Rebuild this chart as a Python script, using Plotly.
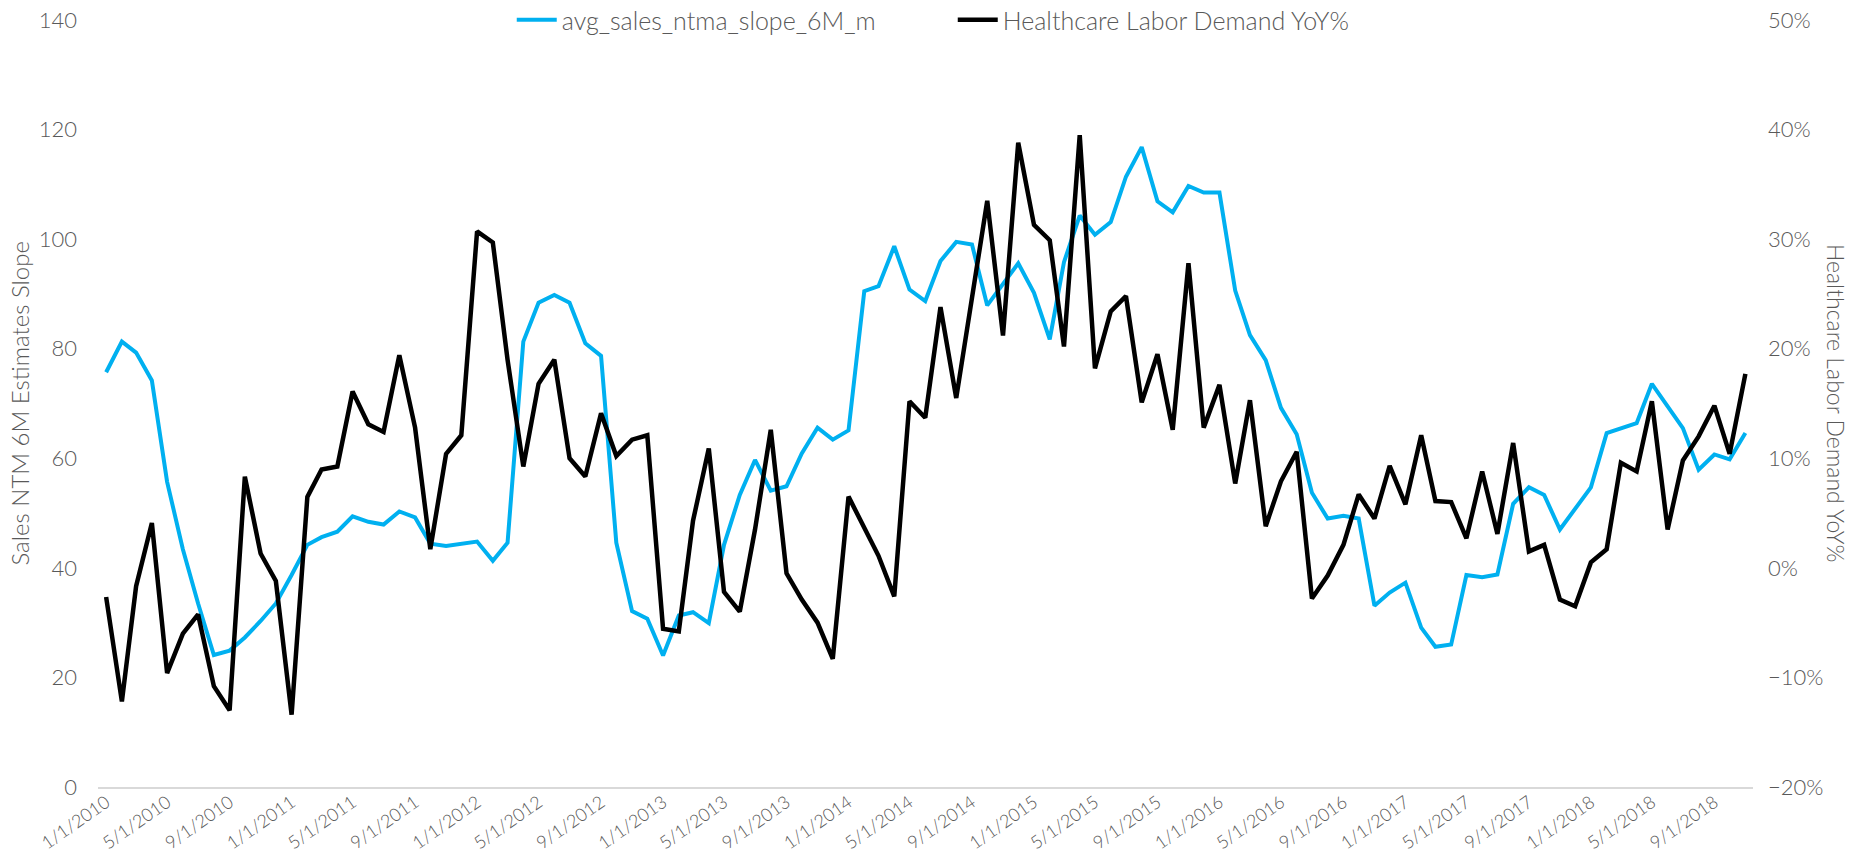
import pandas as pd
import plotly.graph_objects as go

# Monthly dates (Jan 2010 .. Nov 2018)
dates = pd.date_range("2010-01-01", periods=107, freq="MS")

sales_slope = [75.7, 81.3, 79.3, 74.2, 55.7, 43.4, 33.5, 24.1, 24.9, 27.3, 30.3, 33.5, 38.7, 44.2, 45.6, 46.6, 49.4, 48.4, 47.9,
               50.3, 49.2, 44.4, 44.0, 44.4, 44.8, 41.3, 44.6, 81.3, 88.4, 89.8, 88.4, 81.0, 78.7, 44.6, 32.1, 30.7, 24.0,
               31.3, 31.9, 29.9, 44.2, 53.3, 59.7, 54.1, 54.9, 60.9, 65.6, 63.4, 65.1, 90.5, 91.4, 98.7, 90.8, 88.7, 96.0,
               99.5, 99.0, 87.9, 91.8, 95.6, 90.2, 81.7, 95.8, 104.3, 100.8, 103.1, 111.4, 116.8, 106.9, 104.9, 109.7, 108.5, 108.5,
               90.6, 82.5, 77.9, 69.2, 64.4, 53.7, 49.0, 49.5, 49.0, 33.1, 35.5, 37.3, 29.1, 25.6, 26.0, 38.7, 38.3, 38.8,
               51.7, 54.7, 53.3, 47.0, 50.8, 54.7, 64.6, 65.5, 66.4, 73.6, 69.6, 65.5, 57.9, 60.7, 59.8, 64.6]

labor_yoy = [-2.66, -12.2, -1.67, 4.09, -9.6, -6.0, -4.25, -10.8, -13.0, 8.33, 1.31, -1.19, -13.4, 6.47, 8.97, 9.25, 16.1, 13.1, 12.4,
             19.4, 12.8, 1.7, 10.4, 12.1, 30.7, 29.7, 19.0, 9.25, 16.8, 19.0, 10.0, 8.33, 14.1, 10.2, 11.7, 12.1, -5.56,
             -5.8, 4.3, 10.9, -2.2, -4.0, 3.5, 12.6, -0.5, -2.9, -5.0, -8.3, 6.5, 3.7, 1.1, -2.6, 15.2, 13.7, 23.8,
             15.5, 24.5, 33.5, 21.2, 38.8, 31.3, 29.9, 20.2, 39.5, 18.2, 23.4, 24.8, 15.1, 19.5, 12.6, 27.8, 12.8, 16.7,
             7.7, 15.3, 3.8, 7.9, 10.6, -2.8, -0.7, 2.1, 6.7, 4.5, 9.3, 5.8, 12.1, 6.1, 6.0, 2.7, 8.8, 3.1,
             11.4, 1.5, 2.1, -2.9, -3.5, 0.5, 1.7, 9.6, 8.8, 15.2, 3.5, 9.8, 12.0, 14.8, 10.4, 17.7]

series_names = ["avg_sales_ntma_slope_6M_m", "Healthcare Labor Demand YoY%"]
left_title = "Sales NTM 6M Estimates Slope"
right_title = "Healthcare Labor Demand YoY%"

FONT = "Lato, 'Open Sans', sans-serif"
GRAY = "#595959"

fig = go.Figure()
fig.add_trace(go.Scatter(x=dates, y=sales_slope, name=series_names[0], mode="lines",
                         line=dict(color="#00B0F0", width=4), yaxis="y"))
fig.add_trace(go.Scatter(x=dates, y=labor_yoy, name=series_names[1], mode="lines",
                         line=dict(color="#000000", width=4.5), yaxis="y2"))

fig.update_layout(
    width=1855, height=859,
    margin=dict(l=98, r=102, t=20, b=72, autoexpand=False),
    plot_bgcolor="white", paper_bgcolor="white",
    font=dict(family=FONT, color=GRAY, size=20, weight=300),
    showlegend=True,
    legend=dict(orientation="h", x=0.25, xanchor="left", y=1 - 20 / 859, yanchor="middle",
                yref="container",
                font=dict(size=25, color=GRAY, family=FONT, weight=300), bgcolor="rgba(0,0,0,0)",
                entrywidth=386, entrywidthmode="pixels", itemwidth=40, tracegroupgap=0),
    xaxis=dict(
        type="date", range=["2009-12-16", "2018-11-16"],
        tick0="2010-01-01", dtick="M4", tickformat="%-m/%-d/%Y", tickangle=-35,
        showgrid=False, zeroline=False, showline=True, linecolor="#d9d9d9", linewidth=2,
        ticks="", ticklabelstandoff=-4, tickfont=dict(size=18, color=GRAY, family=FONT, weight=300),
    ),
    yaxis=dict(
        range=[0, 140], dtick=20, showgrid=False, zeroline=False, showline=False,
        ticks="", ticklabelstandoff=20, tickfont=dict(size=22, color=GRAY, family=FONT, weight=300),
    ),
    yaxis2=dict(
        range=[-20, 50], dtick=10, ticksuffix="%", overlaying="y", side="right",
        showgrid=False, zeroline=False, showline=False,
        ticks="", ticklabelstandoff=14, tickfont=dict(size=22, color=GRAY, family=FONT, weight=300),
    ),
    annotations=[
        dict(text=left_title, xref="paper", yref="paper", x=-0.0477, y=0.5,
             xanchor="center", yanchor="middle", textangle=-90, showarrow=False,
             font=dict(size=24, color=GRAY, family=FONT, weight=300)),
        dict(text=right_title, xref="paper", yref="paper", x=1.0505, y=0.5,
             xanchor="center", yanchor="middle", textangle=90, showarrow=False,
             font=dict(size=23, color=GRAY, family=FONT, weight=300)),
    ],
)

fig.write_html("out.html", config={"displayModeBar": False},
               post_script="document.body.style.margin='0';document.body.style.overflow='hidden';")
